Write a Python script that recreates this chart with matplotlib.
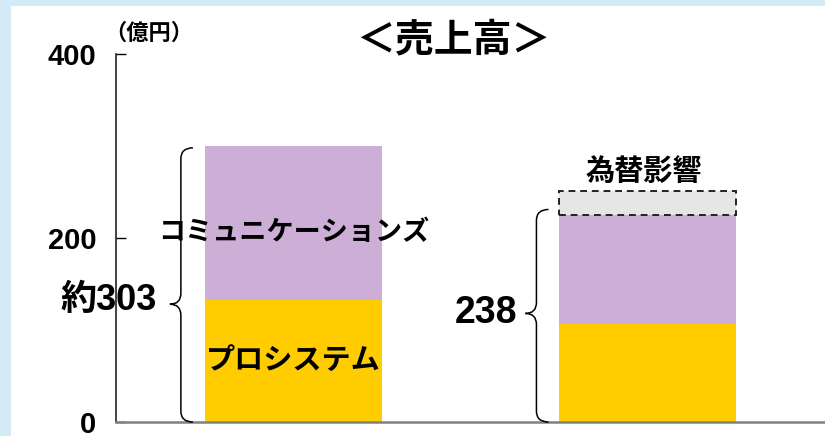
import numpy as np
import matplotlib
matplotlib.use('Agg')
import matplotlib.pyplot as plt
from matplotlib.patches import Rectangle, PathPatch
from matplotlib.path import Path

plt.rcParams['font.family'] = ['Liberation Sans', 'Noto Sans CJK JP']
plt.rcParams['font.weight'] = 'bold'

# データ（億円）
periods = ['前期', '今期']
pro_system = [133, 107]
communications = [167, 118]
fx_effect = [0, 26]
total_labels = ['約303', '238']
yticks = [0, 200, 400]

purple = '#CDAED6'
yellow = '#FFCC00'
grey = '#E6E6E6'
border_blue = '#D4EAF6'

W, H = 825, 436
fig = plt.figure(figsize=(W / 100, H / 100), dpi=100, facecolor=border_blue)
fig.patches.append(Rectangle((11 / W, 0), 1, 1 - 6 / H, transform=fig.transFigure,
                             facecolor='white', edgecolor='none', zorder=-1))

ax = fig.add_axes([116 / W, 14 / H, (W - 116) / W, 368 / H])
ax.set_facecolor('none')

x = np.arange(len(periods))
width = 0.5
ax.bar(x, pro_system, width, color=yellow, zorder=2)
ax.bar(x, communications, width, bottom=pro_system, color=purple, zorder=2)
base = np.array(pro_system) + np.array(communications)
ax.bar(x[1], fx_effect[1], width, bottom=base[1], color=grey, edgecolor='#222222',
       linestyle=(0, (3.5, 2.5)), linewidth=1.4, zorder=2)

ax.set_xlim(-0.5, 1.5)
ax.set_ylim(0, 400)
ax.set_xticks([])
ax.set_yticks(yticks)
ax.tick_params(axis='y', direction='in', length=7, width=1, pad=14, labelsize=21)
for lab in ax.get_yticklabels():
    lab.set_fontweight('bold')
for s in ['top', 'right']:
    ax.spines[s].set_visible(False)
ax.spines['left'].set_linewidth(1.2)
ax.spines['left'].set_color('#222222')
ax.spines['bottom'].set_linewidth(1.8)
ax.spines['bottom'].set_color('#808080')


def brace(xc, top, tip, x_end=0.034, x_tip=0.031, r=12):
    # 中括弧
    xe = xc + x_end
    xt = xc - x_tip
    verts = [(xe, top), (xc, top), (xc, top - r),
             (xc, tip + r),
             (xc, tip), (xt, tip),
             (xc, tip), (xc, tip - r),
             (xc, r),
             (xc, 0), (xe, 0)]
    codes = [Path.MOVETO, Path.CURVE3, Path.CURVE3,
             Path.LINETO,
             Path.CURVE3, Path.CURVE3,
             Path.CURVE3, Path.CURVE3,
             Path.LINETO,
             Path.CURVE3, Path.CURVE3]
    p = PathPatch(Path(verts, codes), facecolor='none', edgecolor='black',
                  linewidth=1.1, zorder=3, clip_on=False)
    ax.add_patch(p)


brace(x[0] - 0.317, base[0] - 2, 128)
brace(x[1] - 0.314, 231, 118)

ax.text(x[0] - 0.385, 132, total_labels[0], ha='right', va='center', fontsize=26,
        fontweight='bold', clip_on=False)
ax.text(x[1] - 0.367, 118, total_labels[1], ha='right', va='center', fontsize=27,
        fontweight='bold')

jp = ['Noto Sans CJK JP']
ax.text(x[0], 206, 'コミュニケーションズ', ha='center', va='center', fontsize=19.5,
        fontweight='bold', family=jp, zorder=4)
ax.text(x[0], 67, 'プロシステム', ha='center', va='center', fontsize=21,
        fontweight='bold', family=jp, zorder=4)
ax.text(x[1] - 0.01, 273, '為替影響', ha='center', va='center', fontsize=21,
        fontweight='bold', family=jp)

fig.text(453 / W, 1 - 40 / H, '＜売上高＞', ha='center', va='center', fontsize=28,
         fontweight='bold', family=jp)
fig.text(149 / W, 1 - 33 / H, '（億円）', ha='center', va='center', fontsize=16,
         fontweight='bold', family=jp)

fig.savefig('out.png', dpi=100, facecolor=fig.get_facecolor())
